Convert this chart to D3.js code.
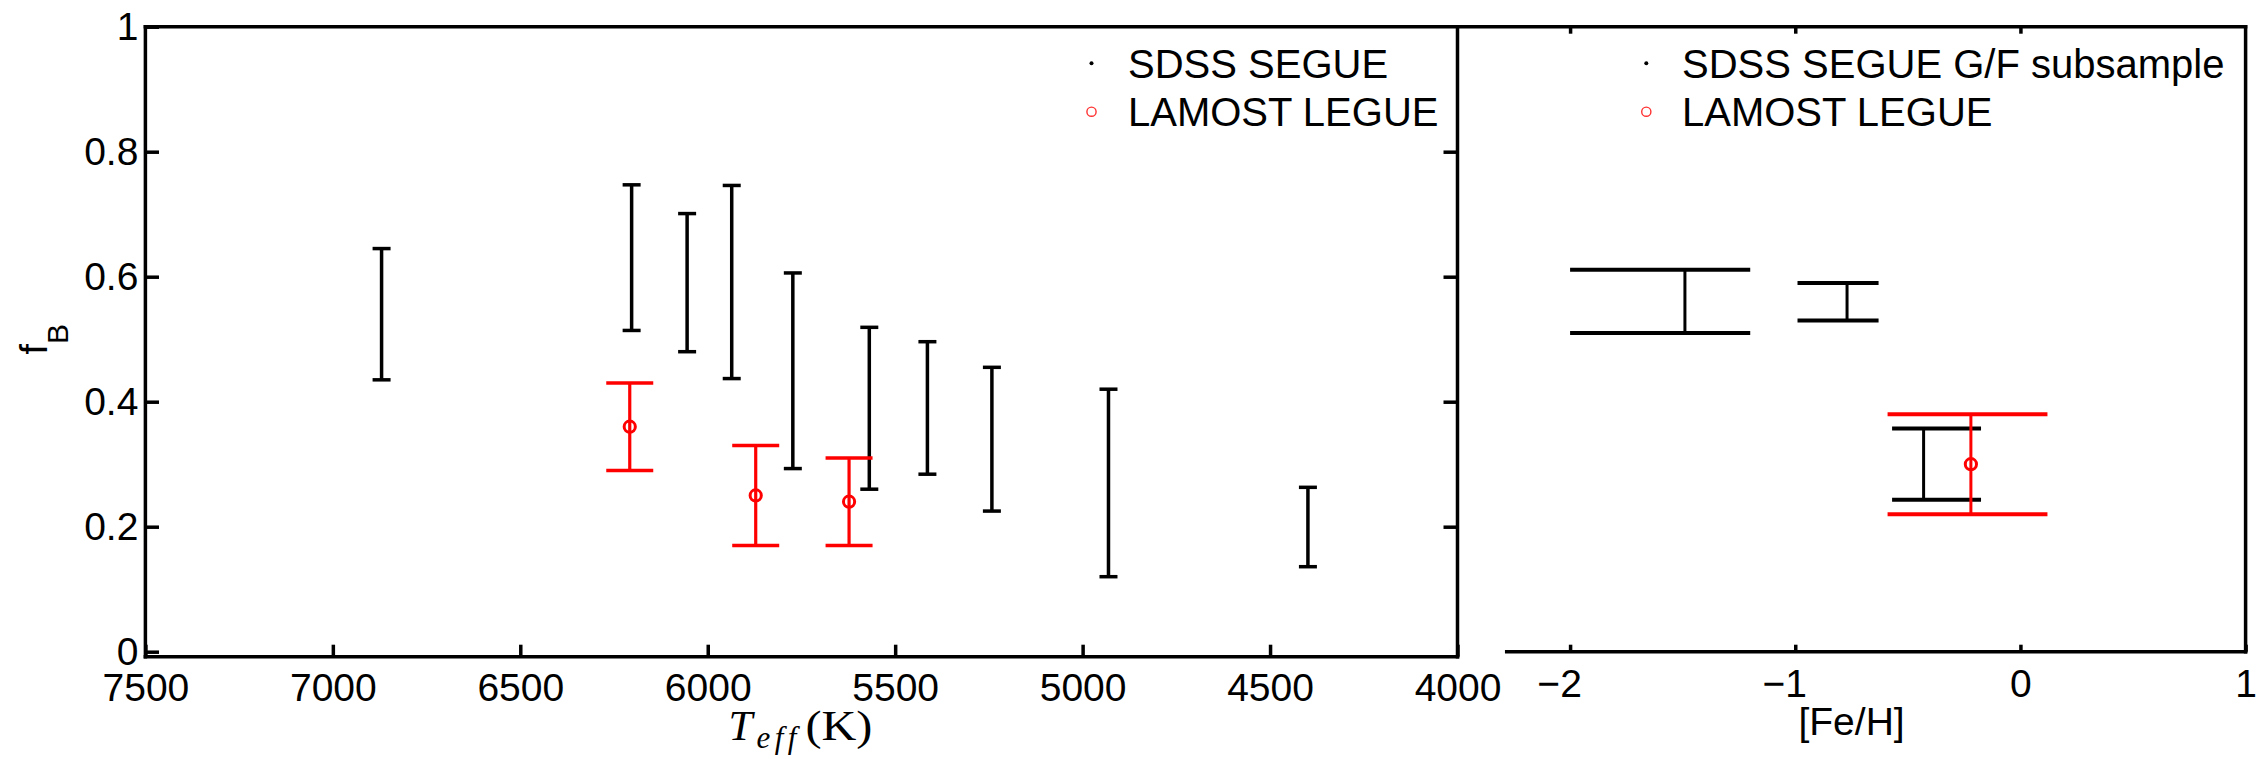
<!DOCTYPE html>
<html>
<head>
<meta charset="utf-8">
<script src="https://cdn.jsdelivr.net/npm/d3@7"></script>
<style>
  html, body { margin: 0; padding: 0; background: #fff; }
  svg { display: block; }
  text { font-family: "Liberation Sans", Arial, Helvetica, sans-serif; }
</style>
</head>
<body>
<svg id="chart" width="2258" height="759"></svg>
<script>
// ---------------- DATA ----------------
// Left panel: SDSS SEGUE binary fraction ranges vs Teff
const sdssTeff = [6870, 6203, 6055, 5936, 5773, 5569, 5414, 5242, 4931, 4399];
const sdssLo   = [0.435, 0.514, 0.480, 0.437, 0.293, 0.260, 0.284, 0.225, 0.120, 0.136];
const sdssHi   = [0.645, 0.747, 0.701, 0.746, 0.606, 0.519, 0.496, 0.455, 0.420, 0.263];

// Left panel: LAMOST LEGUE
const lamostTeff = [6208, 5872, 5623];
const lamostFb   = [0.36, 0.25, 0.24];
const lamostLo   = [0.29, 0.17, 0.17];
const lamostHi   = [0.43, 0.33, 0.31];

// Right panel: SDSS SEGUE G/F subsample vs [Fe/H]
const segueFeh   = [-1.49, -0.77, -0.43];
const segueFehLo = [-2.00, -0.99, -0.57];
const segueFehHi = [-1.20, -0.63, -0.175];
const segueFbLo  = [0.510, 0.530, 0.243];
const segueFbHi  = [0.611, 0.590, 0.357];

// Right panel: LAMOST LEGUE
const lamostFeh   = [-0.22];
const lamostFehLo = [-0.59];
const lamostFehHi = [0.12];
const lamostFb2   = [0.30];
const lamostFb2Lo = [0.22];
const lamostFb2Hi = [0.38];

// Ticks
const yTicks  = [0, 0.2, 0.4, 0.6, 0.8, 1];
const yTickLabels = ["0", "0.2", "0.4", "0.6", "0.8", "1"];
const teffTicks = [7500, 7000, 6500, 6000, 5500, 5000, 4500, 4000];
const fehTicks  = [-2, -1, 0, 1];
const fehTopTicks = [-2, -1, 0];

const legendLeft  = ["SDSS SEGUE", "LAMOST LEGUE"];
const legendRight = ["SDSS SEGUE G/F subsample", "LAMOST LEGUE"];

// ---------------- LAYOUT ----------------
const svg = d3.select("#chart");
const RED = "#ff0000";
const AX_W = 3.5;

const yTop = 26.7, yBot = 651.7;
const leftBottomY = 656.7;          // left panel x-axis line sits a little lower
const xLeft0 = 145.4, xMid = 1457.5, xRight1 = 2245.6;
const rightAxisStart = 1506.7;

const y  = d3.scaleLinear().domain([0, 1]).range([yBot, yTop]);
const xL = d3.scaleLinear().domain([7500, 4000]).range([xLeft0, xMid]);
const xR = d3.scaleLinear().domain([-2.5, 1]).range([xMid, xRight1]);

function styleAxis(g) {
  g.select(".domain").remove();
  g.selectAll(".tick line").attr("stroke", "#000").attr("stroke-width", AX_W);
  g.selectAll(".tick text").attr("fill", "#000")
    .style("font-family", '"Liberation Sans", Arial, sans-serif');
}

// ---------- Left panel axes ----------
// left y axis (ticks inward)
svg.append("g").attr("transform", `translate(${xLeft0},0)`)
  .call(d3.axisLeft(y).tickValues(yTicks)
        .tickFormat((d, i) => yTickLabels[i]).tickSize(-13.6).tickPadding(7))
  .call(styleAxis)
  .call(g => g.selectAll(".tick text").style("font-size", "39px"));

// right side ticks of left panel (inward, no labels)
svg.append("g").attr("transform", `translate(${xMid},0)`)
  .call(d3.axisLeft(y).tickValues(yTicks.filter(v => v > 0 && v < 1))
        .tickFormat("").tickSize(14))
  .call(styleAxis);

// bottom x axis of left panel
svg.append("g").attr("transform", `translate(0,${leftBottomY})`)
  .call(d3.axisBottom(xL).tickValues(teffTicks).tickFormat(d3.format("d"))
        .tickSize(-12).tickPadding(16.3))
  .call(styleAxis)
  .call(g => g.selectAll(".tick text").style("font-size", "39px"));

// ---------- Right panel axes ----------
svg.append("g").attr("transform", `translate(0,${yBot})`)
  .call(d3.axisBottom(xR).tickValues(fehTicks)
        .tickFormat(d => d < 0 ? "\u2212" + Math.abs(d) : String(d))
        .tickSize(-7).tickPadding(17.3))
  .call(styleAxis)
  .call(g => g.selectAll(".tick text").style("font-size", "39px")
        .attr("dx", d => d < 0 ? -11 : 0));

svg.append("g").attr("transform", `translate(0,${yTop})`)
  .call(d3.axisTop(xR).tickValues(fehTopTicks).tickFormat("").tickSize(-7))
  .call(styleAxis);

// ---------- Frame lines ----------
const frame = svg.append("g").attr("stroke", "#000").attr("stroke-width", AX_W)
  .attr("stroke-linecap", "square").attr("fill", "none");
frame.append("line").attr("x1", xLeft0).attr("x2", xRight1).attr("y1", yTop).attr("y2", yTop);
frame.append("line").attr("x1", xLeft0).attr("x2", xLeft0).attr("y1", yTop).attr("y2", leftBottomY);
frame.append("line").attr("x1", xLeft0).attr("x2", xMid).attr("y1", leftBottomY).attr("y2", leftBottomY);
frame.append("line").attr("x1", xMid).attr("x2", xMid).attr("y1", yTop).attr("y2", leftBottomY);
frame.append("line").attr("x1", rightAxisStart).attr("x2", xRight1).attr("y1", yBot).attr("y2", yBot);
frame.append("line").attr("x1", xRight1).attr("x2", xRight1).attr("y1", yTop).attr("y2", yBot);

// ---------- Left panel data ----------
const sdss = sdssTeff.map((t, i) => ({ t, lo: sdssLo[i], hi: sdssHi[i] }));
const gS = svg.append("g").attr("stroke", "#000").attr("fill", "none");
gS.selectAll("line.v").data(sdss).join("line").attr("class", "v")
  .attr("x1", d => xL(d.t)).attr("x2", d => xL(d.t))
  .attr("y1", d => y(d.lo)).attr("y2", d => y(d.hi)).attr("stroke-width", 3.5);
["lo", "hi"].forEach(k => {
  gS.selectAll("line.c" + k).data(sdss).join("line").attr("class", "c" + k)
    .attr("x1", d => xL(d.t) - 9).attr("x2", d => xL(d.t) + 9)
    .attr("y1", d => y(d[k])).attr("y2", d => y(d[k])).attr("stroke-width", 3.5);
});

const lam = lamostTeff.map((t, i) => ({ t, v: lamostFb[i], lo: lamostLo[i], hi: lamostHi[i] }));
const gL = svg.append("g").attr("stroke", RED).attr("fill", "none");
gL.selectAll("line.v").data(lam).join("line").attr("class", "v")
  .attr("x1", d => xL(d.t)).attr("x2", d => xL(d.t))
  .attr("y1", d => y(d.lo)).attr("y2", d => y(d.hi)).attr("stroke-width", 3.2);
["lo", "hi"].forEach(k => {
  gL.selectAll("line.c" + k).data(lam).join("line").attr("class", "c" + k)
    .attr("x1", d => xL(d.t) - 23.5).attr("x2", d => xL(d.t) + 23.5)
    .attr("y1", d => y(d[k])).attr("y2", d => y(d[k])).attr("stroke-width", 3.4);
});
gL.selectAll("circle").data(lam).join("circle")
  .attr("cx", d => xL(d.t)).attr("cy", d => y(d.v)).attr("r", 5.6).attr("stroke-width", 3);

// ---------- Right panel data ----------
const seg = segueFeh.map((f, i) => ({ f, flo: segueFehLo[i], fhi: segueFehHi[i], lo: segueFbLo[i], hi: segueFbHi[i] }));
const gR = svg.append("g").attr("stroke", "#000").attr("fill", "none");
gR.selectAll("line.v").data(seg).join("line").attr("class", "v")
  .attr("x1", d => xR(d.f)).attr("x2", d => xR(d.f))
  .attr("y1", d => y(d.lo)).attr("y2", d => y(d.hi)).attr("stroke-width", 3);
["lo", "hi"].forEach(k => {
  gR.selectAll("line.c" + k).data(seg).join("line").attr("class", "c" + k)
    .attr("x1", d => xR(d.flo)).attr("x2", d => xR(d.fhi))
    .attr("y1", d => y(d[k])).attr("y2", d => y(d[k])).attr("stroke-width", 4);
});

const lam2 = lamostFeh.map((f, i) => ({ f, flo: lamostFehLo[i], fhi: lamostFehHi[i], v: lamostFb2[i], lo: lamostFb2Lo[i], hi: lamostFb2Hi[i] }));
const gR2 = svg.append("g").attr("stroke", RED).attr("fill", "none");
gR2.selectAll("line.v").data(lam2).join("line").attr("class", "v")
  .attr("x1", d => xR(d.f)).attr("x2", d => xR(d.f))
  .attr("y1", d => y(d.lo)).attr("y2", d => y(d.hi)).attr("stroke-width", 3);
["lo", "hi"].forEach(k => {
  gR2.selectAll("line.c" + k).data(lam2).join("line").attr("class", "c" + k)
    .attr("x1", d => xR(d.flo)).attr("x2", d => xR(d.fhi))
    .attr("y1", d => y(d[k])).attr("y2", d => y(d[k])).attr("stroke-width", 4);
});
gR2.selectAll("circle").data(lam2).join("circle")
  .attr("cx", d => xR(d.f)).attr("cy", d => y(d.v)).attr("r", 5.6).attr("stroke-width", 3);

// ---------- Legends ----------
function legend(markerX, textX, labels) {
  const rows = [63.3, 111.7];
  const g = svg.append("g");
  g.append("circle").attr("cx", markerX).attr("cy", rows[0]).attr("r", 2).attr("fill", "#000");
  g.append("circle").attr("cx", markerX).attr("cy", rows[1]).attr("r", 4.6)
    .attr("fill", "none").attr("stroke", "#ff3030").attr("stroke-width", 1.4);
  labels.forEach((t, i) => {
    g.append("text").attr("x", textX).attr("y", rows[i] + 14.3)
      .style("font-size", "40px").attr("fill", "#000").text(t);
  });
}
legend(1091.5, 1128, legendLeft);
legend(1646.3, 1682, legendRight);

// ---------- Axis titles ----------
const yl = svg.append("text")
  .attr("transform", `translate(46.7,${(yTop + yBot) / 2}) rotate(-90)`)
  .attr("text-anchor", "middle").style("font-size", "38px");
yl.append("tspan").text("f");
yl.append("tspan").attr("dy", 21).style("font-size", "30px").text("B");

const cxL = (xLeft0 + xMid) / 2;
const serif = '"Liberation Serif", "Times New Roman", serif';
svg.append("text").attr("x", cxL - 73).attr("y", 740)
  .style("font-family", serif).style("font-style", "italic").style("font-size", "43px").text("T");
svg.append("text").attr("x", cxL - 45).attr("y", 748)
  .style("font-family", serif).style("font-style", "italic").style("font-size", "31px")
  .attr("textLength", 40).attr("lengthAdjust", "spacing").text("eff");
svg.append("text").attr("x", cxL + 4).attr("y", 740)
  .style("font-family", serif).style("font-size", "42px")
  .attr("textLength", 67).attr("lengthAdjust", "spacingAndGlyphs").text("(K)");

svg.append("text").attr("x", (xMid + xRight1) / 2).attr("y", 735)
  .attr("text-anchor", "middle").style("font-size", "39px").text("[Fe/H]");
</script>
</body>
</html>
